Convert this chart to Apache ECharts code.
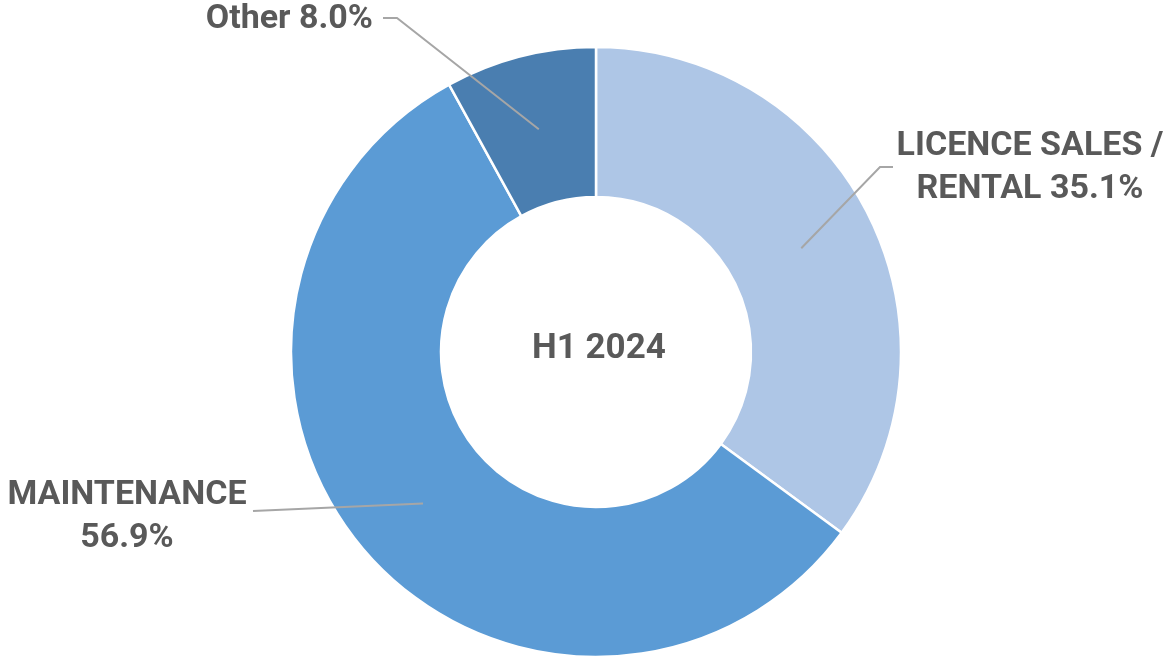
<!DOCTYPE html>
<html>
<head>
<meta charset="utf-8">
<script src="https://cdn.jsdelivr.net/npm/echarts@6/dist/echarts.min.js"></script>
<style>
	html, body { margin: 0; padding: 0; background: #fff; }
	#chart { width: 1164px; height: 657px; }
</style>
</head>
<body>
<div id="chart"></div>
<script>
// data
var segmentNames = ['LICENCE SALES /\nRENTAL', 'MAINTENANCE', 'Other'];
var segmentValues = [35.1, 56.9, 8.0];
var labelSeparators = [' ', '\n', ' '];
var centerText = 'H1 2024';

var colors = ['#aec6e6', '#5b9bd5', '#4a7eb0'];
var cx = 596, cy = 352, rInner = 155, rOuter = 305;

// where each label sits, and the bend / end of its leader line
var labelPlaces = [
	{ x: 1030, y: 168, align: 'center', bend: [880, 167], end: [893, 167] },
	{ x: 127, y: 517, align: 'center', bend: [253, 511], end: [253, 511] },
	{ x: 373, y: 19, align: 'right', bend: [397, 18], end: [383, 18] }
];

// mid point of the ring for each slice (start of leader line)
var total = 0;
for (var i = 0; i < segmentValues.length; i++) total += segmentValues[i];
var anchors = [];
var acc = 0;
for (var i = 0; i < segmentValues.length; i++) {
	var mid = (acc + segmentValues[i] / 2) / total * Math.PI * 2;
	var r = (rInner + rOuter) / 2;
	anchors.push([cx + r * Math.sin(mid), cy - r * Math.cos(mid)]);
	acc += segmentValues[i];
}

var ringData = [];
var labelData = [];
for (var i = 0; i < segmentNames.length; i++) {
	ringData.push({ name: segmentNames[i], value: segmentValues[i], itemStyle: { color: colors[i] } });
	labelData.push({ name: segmentNames[i], value: segmentValues[i] });
}

var myChart = echarts.init(document.getElementById('chart'));
var option = {
	animation: false,
	graphic: [{
		type: 'text',
		left: cx - 64,
		top: cy - 20,
		style: {
			text: centerText,
			x: 0, y: 0,
			width: 140,
			align: 'center',
			fill: '#595959',
			font: 'bold 35px Roboto'
		}
	}],
	series: [{
		// the coloured ring
		type: 'pie',
		center: [cx, cy],
		radius: [rInner, rOuter],
		startAngle: 90,
		clockwise: true,
		silent: true,
		itemStyle: { borderColor: '#fff', borderWidth: 2.5 },
		label: { show: false },
		labelLine: { show: false },
		data: ringData
	}, {
		// same ring, transparent, on top: carries labels so the leader lines sit above the slices
		type: 'pie',
		z: 5,
		center: [cx, cy],
		radius: [rInner, rOuter],
		startAngle: 90,
		clockwise: true,
		silent: true,
		avoidLabelOverlap: false,
		itemStyle: { color: 'rgba(0,0,0,0)', borderWidth: 0 },
		label: {
			show: true,
			position: 'outside',
			color: '#595959',
			fontFamily: 'Roboto',
			fontWeight: 'bold',
			fontSize: 34,
			lineHeight: 43,
			formatter: function (p) {
				return p.name + labelSeparators[p.dataIndex] + p.value.toFixed(1) + '%';
			}
		},
		labelLine: {
			show: true,
			smooth: false,
			lineStyle: { color: '#a6a6a6', width: 2 }
		},
		labelLayout: function (params) {
			var lp = labelPlaces[params.dataIndex];
			return {
				x: lp.x,
				y: lp.y,
				align: lp.align,
				verticalAlign: 'middle',
				labelLinePoints: [anchors[params.dataIndex], lp.bend, lp.end]
			};
		},
		data: labelData
	}]
};
myChart.setOption(option);
</script>
</body>
</html>
